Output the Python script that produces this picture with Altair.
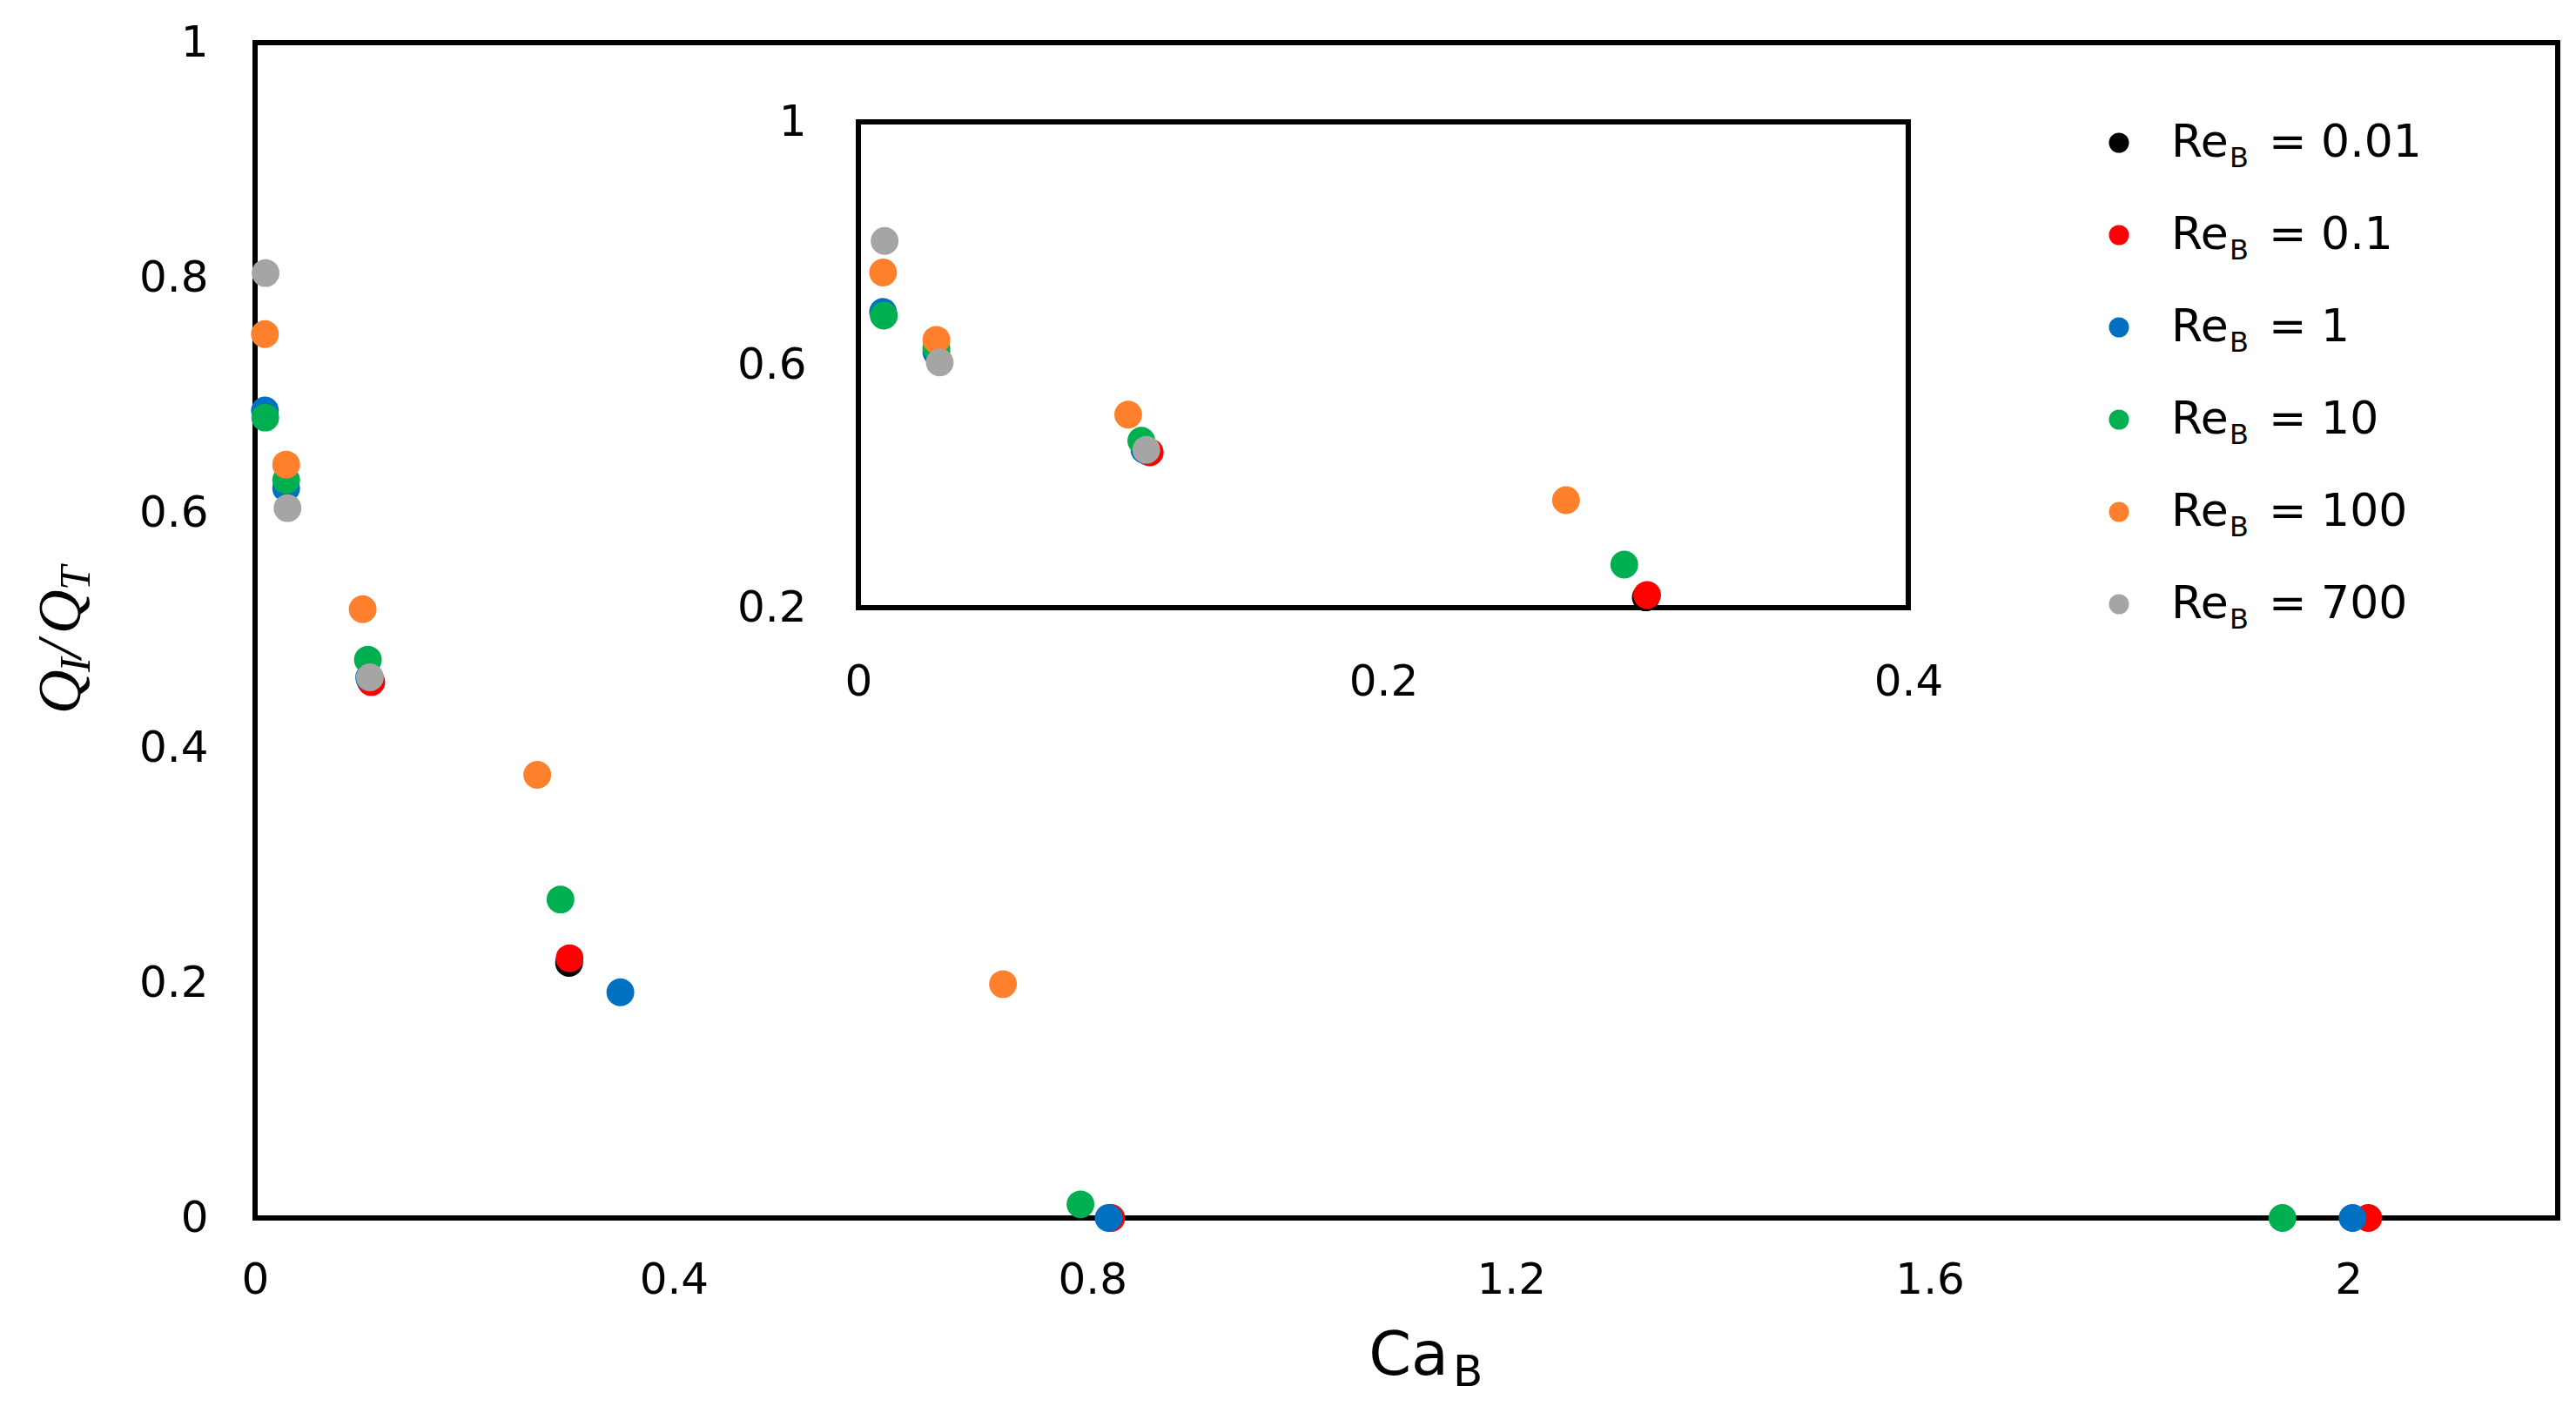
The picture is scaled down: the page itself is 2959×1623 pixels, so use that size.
import altair as alt
import pandas as pd

# ---------------- data ----------------
re_labels = ["0.01", "0.1", "1", "10", "100", "700"]
colors = ["#000000", "#FF0000", "#0070C0", "#00B050", "#FE7F2C", "#A5A5A5"]

ca_001 = [0.110, 0.300]
q_001 = [0.458, 0.217]
ca_01 = [0.111, 0.3005, 0.818, 2.019]
q_01 = [0.456, 0.221, 0.0, 0.0]
ca_1 = [0.0094, 0.0297, 0.109, 0.349, 0.8155, 2.004]
q_1 = [0.687, 0.621, 0.460, 0.192, 0.0, 0.0]
ca_10 = [0.0097, 0.0297, 0.1078, 0.2918, 0.7886, 1.937]
q_10 = [0.681, 0.628, 0.475, 0.271, 0.0116, 0.0]
ca_100 = [0.0094, 0.0297, 0.1028, 0.2696, 0.7146]
q_100 = [0.752, 0.641, 0.518, 0.377, 0.199]
ca_700 = [0.010, 0.031, 0.1097]
q_700 = [0.804, 0.604, 0.460]

main_x_ticks = [0, 0.4, 0.8, 1.2, 1.6, 2.0]
main_y_ticks = [0, 0.2, 0.4, 0.6, 0.8, 1.0]
inset_x_ticks = [0, 0.2, 0.4]
inset_y_ticks = [0.2, 0.6, 1.0]

legend_prefix = "Re"
legend_sub = "B"
legend_eq = "= "
x_title = "Ca"
x_title_sub = "B"
y_title_parts = ["Q", "I", "/", "Q", "T"]

# ---------------- table ----------------
series = [ca_001, ca_01, ca_1, ca_10, ca_100, ca_700]
values = [q_001, q_01, q_1, q_10, q_100, q_700]
rows = []
k = 0
for lab, xs, ys in zip(re_labels, series, values):
    for x, y in zip(xs, ys):
        rows.append({"re": lab, "ca": x, "q": y, "idx": k})
        k += 1
df = pd.DataFrame(rows)
one = pd.DataFrame({"a": [0]})
leg_df = pd.DataFrame({
    "re": re_labels,
    "row": list(range(len(re_labels))),
    "pre": [legend_prefix] * len(re_labels),
    "sub": [legend_sub] * len(re_labels),
    "val": [legend_eq + v for v in re_labels],
})

# ---------------- layout ----------------
W, H = 2645, 1350
FONT = "DejaVu Sans"
color_enc = alt.Color("re:N", scale=alt.Scale(domain=re_labels, range=colors), legend=None)

common_axis = dict(domain=False, ticks=False, tickSize=0, grid=False, labelFont=FONT,
                   labelFontSize=50, labelColor="black", title=None, labelFlush=False,
                   labelOverlap=False, format="~g")

# main plot
xs_main = alt.Scale(domain=[0, 2.2], nice=False, zero=False)
ys_main = alt.Scale(domain=[0, 1], nice=False, zero=False)
ax_main_x = alt.Axis(values=main_x_ticks, labelPadding=46, **common_axis)
ax_main_y = alt.Axis(values=main_y_ticks, labelPadding=54, **common_axis)

frame_main = alt.Chart(one).mark_rect(filled=False, stroke="black", strokeWidth=6).encode(
    x=alt.XDatum(0, type="quantitative", scale=xs_main, axis=ax_main_x),
    x2=alt.X2Datum(2.2),
    y=alt.YDatum(0, type="quantitative", scale=ys_main, axis=ax_main_y),
    y2=alt.Y2Datum(1),
)
points_main = alt.Chart(df).mark_circle(size=1018, opacity=1).encode(
    x=alt.X("ca:Q", scale=xs_main, axis=ax_main_x),
    y=alt.Y("q:Q", scale=ys_main, axis=ax_main_y),
    color=color_enc,
    order=alt.Order("idx:Q"),
)
main_layer = alt.layer(frame_main, points_main)

# inset
IN_L, IN_R, IN_T, IN_B = 693, 1899, 91, 649
xs_in = alt.Scale(domain=[0, 0.4], range=[IN_L, IN_R], nice=False, zero=False)
ys_in = alt.Scale(domain=[0.2, 1.0], range=[IN_B, IN_T], nice=False, zero=False)
ax_in_x = alt.Axis(values=inset_x_ticks, orient="bottom", offset=IN_B - H, labelPadding=60, **common_axis)
ax_in_y = alt.Axis(values=inset_y_ticks, orient="left", offset=-IN_L, labelPadding=60, **common_axis)

frame_in = alt.Chart(one).mark_rect(filled=False, stroke="black", strokeWidth=6).encode(
    x=alt.XDatum(0, type="quantitative", scale=xs_in, axis=ax_in_x),
    x2=alt.X2Datum(0.4),
    y=alt.YDatum(0.2, type="quantitative", scale=ys_in, axis=ax_in_y),
    y2=alt.Y2Datum(1.0),
)
points_in = alt.Chart(df).transform_filter(
    "datum.ca <= 0.4 && datum.q >= 0.2"
).mark_circle(size=1018, opacity=1).encode(
    x=alt.X("ca:Q", scale=xs_in, axis=ax_in_x),
    y=alt.Y("q:Q", scale=ys_in, axis=ax_in_y),
    color=color_enc,
    order=alt.Order("idx:Q"),
)
inset_layer = alt.layer(frame_in, points_in)

# legend (manual, for the subscript)
ys_leg = alt.Scale(domain=[0, len(re_labels) - 1], range=[115, 645], nice=False, zero=False)
y_leg = alt.Y("row:Q", scale=ys_leg, axis=None)
leg_pts = alt.Chart(leg_df).mark_circle(size=531, opacity=1).encode(
    x=alt.value(2141), y=y_leg, color=color_enc)
leg_pre = alt.Chart(leg_df).mark_text(align="left", baseline="alphabetic", dy=16, font=FONT,
                                      fontSize=52, color="black").encode(
    x=alt.value(2201), y=y_leg, text="pre:N")
leg_sub = alt.Chart(leg_df).mark_text(align="left", baseline="alphabetic", dy=28, font=FONT,
                                      fontSize=32, color="black").encode(
    x=alt.value(2268), y=y_leg, text="sub:N")
leg_val = alt.Chart(leg_df).mark_text(align="left", baseline="alphabetic", dy=16, font=FONT,
                                      fontSize=52, color="black").encode(
    x=alt.value(2313), y=y_leg, text="val:N")
legend_layer = alt.layer(leg_pts, leg_pre, leg_sub, leg_val)


# axis titles with subscripts
def txt(s, x, y, **kw):
    return alt.Chart(pd.DataFrame({"t": [s]})).mark_text(color="black", **kw).encode(
        text="t:N", x=alt.value(x), y=alt.value(y))


xt1 = txt(x_title, 1371, 1530, align="right", baseline="alphabetic", font=FONT, fontSize=70)
xt2 = txt(x_title_sub, 1376, 1543, align="left", baseline="alphabetic", font=FONT, fontSize=50)

SERIF = "Liberation Serif"
yb, ys_ = -201, -190
y0 = 771
rot = dict(angle=270, align="left", baseline="alphabetic", font=SERIF, fontStyle="italic")
yt = [
    txt(y_title_parts[0], yb, y0, fontSize=70, **rot),
    txt(y_title_parts[1], ys_, y0 - 48, fontSize=50, **rot),
    txt(y_title_parts[2], yb, y0 - 64, fontSize=72, **rot),
    txt(y_title_parts[3], yb, y0 - 92, fontSize=70, **rot),
    txt(y_title_parts[4], ys_, y0 - 142, fontSize=50, **rot),
]
title_layer = alt.layer(xt1, xt2, *yt)

chart = alt.layer(main_layer, inset_layer, legend_layer, title_layer).resolve_scale(
    x="independent", y="independent"
).properties(
    width=W, height=H, autosize="none",
    padding={"left": 285, "top": 41, "right": 10, "bottom": 215},
    background="white",
).configure_view(stroke=None)

chart.save("out.html", embed_options={"renderer": "svg", "actions": False})
